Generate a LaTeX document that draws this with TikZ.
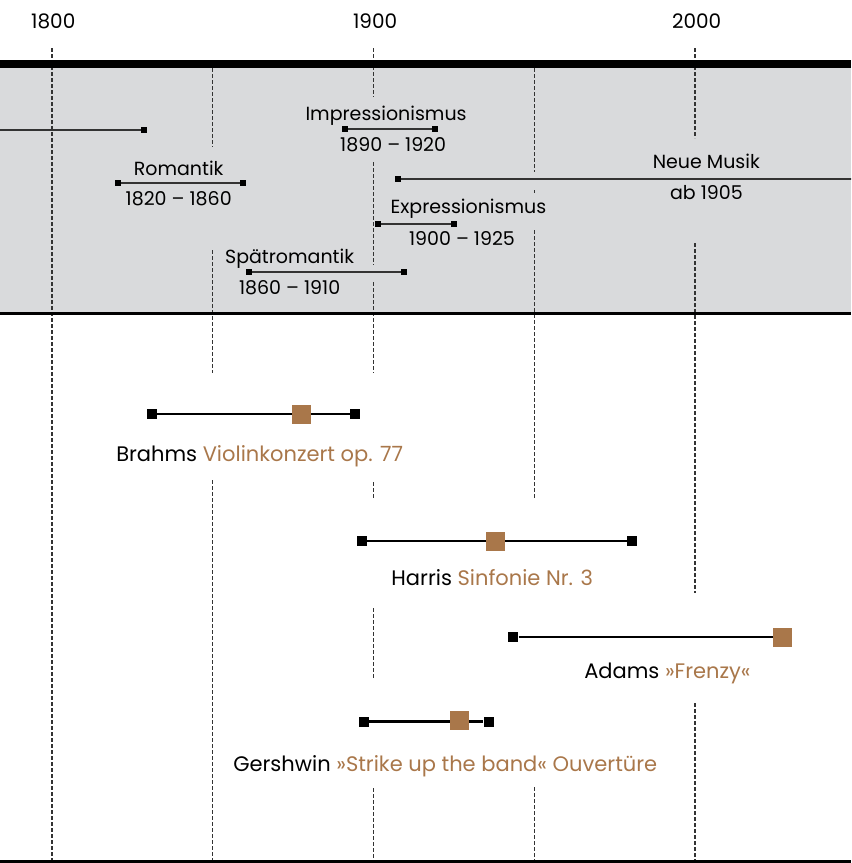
\documentclass[tikz,border=0pt]{standalone}
\usepackage{fontspec}
\setmainfont{Poppins}
\definecolor{band}{HTML}{D9DADC}
\definecolor{brn}{HTML}{A9774A}
\definecolor{grid}{HTML}{333333}
\begin{document}
\begin{tikzpicture}[x=3.2155pt,y=-1pt,shift={(-1783.83,0)},
	grd/.style={draw=grid,line width=1.4pt,dash pattern=on 3.5pt off 2.5pt},
	txt/.style={font=\fontsize{20}{24}\selectfont,inner sep=0pt,anchor=base},
	ptxt/.style={txt,font=\fontsize{19}{23}\selectfont},
	wtxt/.style={txt,font=\fontsize{21}{25}\selectfont},
	pend/.style={rectangle,fill=black,minimum size=6pt,inner sep=0pt},
	pline/.style={draw=black!80,line width=1.6pt},
	wend/.style={rectangle,fill=black,minimum size=10pt,inner sep=0pt},
	wmark/.style={rectangle,fill=brn,minimum size=19pt,inner sep=0pt},
	wline/.style={draw=black,line width=2.8pt}
	]
	\clip (1783.83,0) rectangle (2048.5,863);
	%---------------- BAND ----------------
	\fill[band] (1783.83,68) rectangle (2048.5,311.5);
	\foreach \yr/\ya/\yb in {1800/48/863,
		1850/68/147, 1850/250/373, 1850/480/863,
		1900/48/97, 1900/162/265, 1900/282/373, 1900/482/498, 1900/608/678, 1900/788/863,
		1950/68/172, 1950/190/193, 1950/230/498, 1950/787/863,
		2000/48/138, 2000/243/593, 2000/703/863}
		\draw[grd] (\yr,\ya) -- (\yr,\yb);
	\fill (1783.83,60) rectangle (2048.5,68);
	\fill (1783.83,311.5) rectangle (2048.5,315);
	\fill (1783.83,859.5) rectangle (2048.5,863);
	\node[txt] (y1800) at (1800.4,28) {1800};
	\node[txt] (y1900) at (1900.5,28) {1900};
	\node[txt] (y2000) at (2000.5,28) {2000};
	%---------------- EPOCHEN ----------------
	\coordinate (kla-a) at (1783.83,130);
	\node[pend] (kla-b) at (1828.6,130) {};
	\draw[pline] (kla-a) -- (kla-b);
	
	\node[pend] (rom-a) at (1820.5,182.7) {};
	\node[pend] (rom-b) at (1859.4,182.7) {};
	\draw[pline] (rom-a) -- (rom-b);
	\node[ptxt] (rom-t) at (1839.4,175) {Romantik};
	\node[ptxt] (rom-d) at (1839.4,205) {1820 – 1860};
	
	\node[pend] (imp-a) at (1891.1,129) {};
	\node[pend] (imp-b) at (1919.1,129) {};
	\draw[pline] (imp-a) -- (imp-b);
	\node[ptxt] (imp-t) at (1903.9,120.7) {Impressionismus};
	\node[ptxt] (imp-d) at (1906.1,151.7) {1890 – 1920};
	
	\node[pend] (neu-a) at (1907.6,179) {};
	\coordinate (neu-b) at (2050,179);
	\draw[pline] (neu-a) -- (neu-b);
	\node[ptxt] (neu-t) at (2003.5,168.3) {Neue Musik};
	\node[ptxt] (neu-d) at (2003.5,199.3) {ab 1905};
	
	\node[pend] (exp-a) at (1901.3,224) {};
	\node[pend] (exp-b) at (1925.0,224) {};
	\draw[pline] (exp-a) -- (exp-b);
	\node[ptxt] (exp-t) at (1929.5,213.3) {Expressionismus};
	\node[ptxt] (exp-d) at (1927.5,245) {1900 – 1925};
	
	\node[pend] (spa-a) at (1861.3,272) {};
	\node[pend] (spa-b) at (1909.5,272) {};
	\draw[pline] (spa-a) -- (spa-b);
	\node[ptxt] (spa-t) at (1873.9,263.3) {Spätromantik};
	\node[ptxt] (spa-d) at (1873.9,294) {1860 – 1910};
	%---------------- WERKE ----------------
	\node[wend] (bra-a) at (1831.0,414) {};
	\node[wend] (bra-b) at (1894.2,414) {};
	\draw[wline] (bra-a) -- (bra-b);
	\node[wmark] (bra-w) at (1877.5,414) {};
	\node[wtxt] (bra-t) at (1864.6,461.7) {Brahms \textcolor{brn}{Violinkonzert op. 77}};
	
	\node[wend] (har-a) at (1896.5,541) {};
	\node[wend] (har-b) at (1980.4,541) {};
	\draw[wline] (har-a) -- (har-b);
	\node[wmark] (har-w) at (1937.9,541) {};
	\node[wtxt] (har-t) at (1936.9,585) {Harris \textcolor{brn}{Sinfonie Nr. 3}};
	
	\node[wend] (ada-a) at (1943.5,637) {};
	\node[wmark] (ada-w) at (2027.1,637) {};
	\draw[wline] (ada-a) -- (ada-w);
	\node[wtxt] (ada-t) at (1991.4,678.3) {Adams \textcolor{brn}{»Frenzy«}};
	
	\node[wend] (ger-a) at (1897.0,721.5) {};
	\node[wend] (ger-b) at (1935.8,721.5) {};
	\draw[wline] (ger-a) -- (ger-b);
	\node[wmark] (ger-w) at (1926.7,720.5) {};
	\node[wtxt] (ger-t) at (1922.3,771.7) {Gershwin \textcolor{brn}{»Strike up the band« Ouvertüre}};
\end{tikzpicture}
\end{document}
